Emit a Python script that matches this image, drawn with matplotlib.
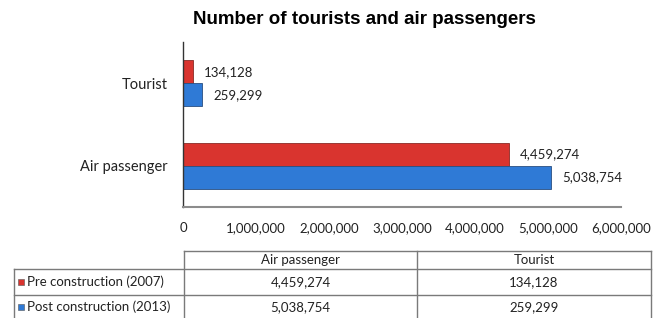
import matplotlib
matplotlib.use('Agg')
import matplotlib.pyplot as plt

# Data
categories = ['Air passenger', 'Tourist']
series_names = ['Pre construction (2007)', 'Post construction (2013)']
pre_2007 = [4459274, 134128]
post_2013 = [5038754, 259299]
x_ticks = [0, 1000000, 2000000, 3000000, 4000000, 5000000, 6000000]

red = '#d9342f'
blue = '#2f7ad6'
label_font = 'Lato'

W, H = 663, 318
fig = plt.figure(figsize=(W / 100, H / 100), dpi=100)

# chart area
ax = fig.add_axes([183 / W, 1 - 207 / H, 438 / W, 165 / H])
ypos = list(range(len(categories)))
bh = 0.28
ax.barh([y + bh / 2 for y in ypos], pre_2007, height=bh, color=red, edgecolor='#8a2a26', linewidth=0.6)
ax.barh([y - bh / 2 for y in ypos], post_2013, height=bh, color=blue, edgecolor='#2a4f80', linewidth=0.6)

for y, v in zip(ypos, pre_2007):
    ax.annotate(f'{v:,}', (v, y + bh / 2), xytext=(8, 0), textcoords='offset points',
                va='center', ha='left', fontsize=9.5, family=label_font, color='#222222')
for y, v in zip(ypos, post_2013):
    ax.annotate(f'{v:,}', (v, y - bh / 2), xytext=(8, 0), textcoords='offset points',
                va='center', ha='left', fontsize=9.5, family=label_font, color='#222222')

ax.set_xlim(0, 6000000)
ax.set_ylim(-0.5, 1.5)
ax.set_yticks(ypos)
ax.set_yticklabels(categories, fontsize=10.5, family=label_font)
ax.set_xticks(x_ticks)
ax.set_xticklabels([f'{t:,}' for t in x_ticks], fontsize=9.5, family=label_font)
ax.tick_params(axis='both', length=0, colors='#222222')
ax.tick_params(axis='y', pad=11)
ax.tick_params(axis='x', pad=11)
ax.spines['top'].set_visible(False)
ax.spines['right'].set_visible(False)
ax.spines['left'].set_color('#333333')
ax.spines['left'].set_linewidth(1.0)
ax.spines['bottom'].set_color('#8c8c8c')
ax.spines['bottom'].set_linewidth(1.5)

fig.text(364 / W, 1 - 19 / H, 'Number of tourists and air passengers', ha='center', va='center',
         fontsize=13.5, fontweight='bold', family='Liberation Sans')

# data table under the chart
tb = fig.add_axes([0, 0, 1, 1], facecolor='none')
tb.set_xlim(0, W)
tb.set_ylim(H, 0)
tb.axis('off')
col_x = [14, 184, 417, 651]
row_y = [251, 269, 295, 319]
lc = '#7a7a7a'
tb.plot([col_x[1], col_x[3]], [row_y[0], row_y[0]], color=lc, lw=1)
for ry in row_y[1:]:
    tb.plot([col_x[0], col_x[3]], [ry, ry], color=lc, lw=1)
tb.plot([col_x[0], col_x[0]], [row_y[1], row_y[3]], color=lc, lw=1)
for cx in col_x[1:]:
    tb.plot([cx, cx], [row_y[0], row_y[3]], color=lc, lw=1)

for j, c in enumerate(categories):
    tb.text((col_x[j + 1] + col_x[j + 2]) / 2, (row_y[0] + row_y[1]) / 2, c,
            ha='center', va='center', fontsize=9.5, family=label_font, color='#222222')
for i, (name, vals, col) in enumerate(zip(series_names, [pre_2007, post_2013], [red, blue])):
    cy = (row_y[i + 1] + row_y[i + 2]) / 2
    tb.scatter([21], [cy], marker='s', s=22, color=col, edgecolors='#555555', linewidths=0.4)
    tb.text(27, cy, name, ha='left', va='center', fontsize=9.5, family=label_font, color='#222222')
    for j, v in enumerate(vals):
        tb.text((col_x[j + 1] + col_x[j + 2]) / 2, cy, f'{v:,}',
                ha='center', va='center', fontsize=9.5, family=label_font, color='#222222')

fig.savefig('out.png', dpi=100, facecolor='white')
